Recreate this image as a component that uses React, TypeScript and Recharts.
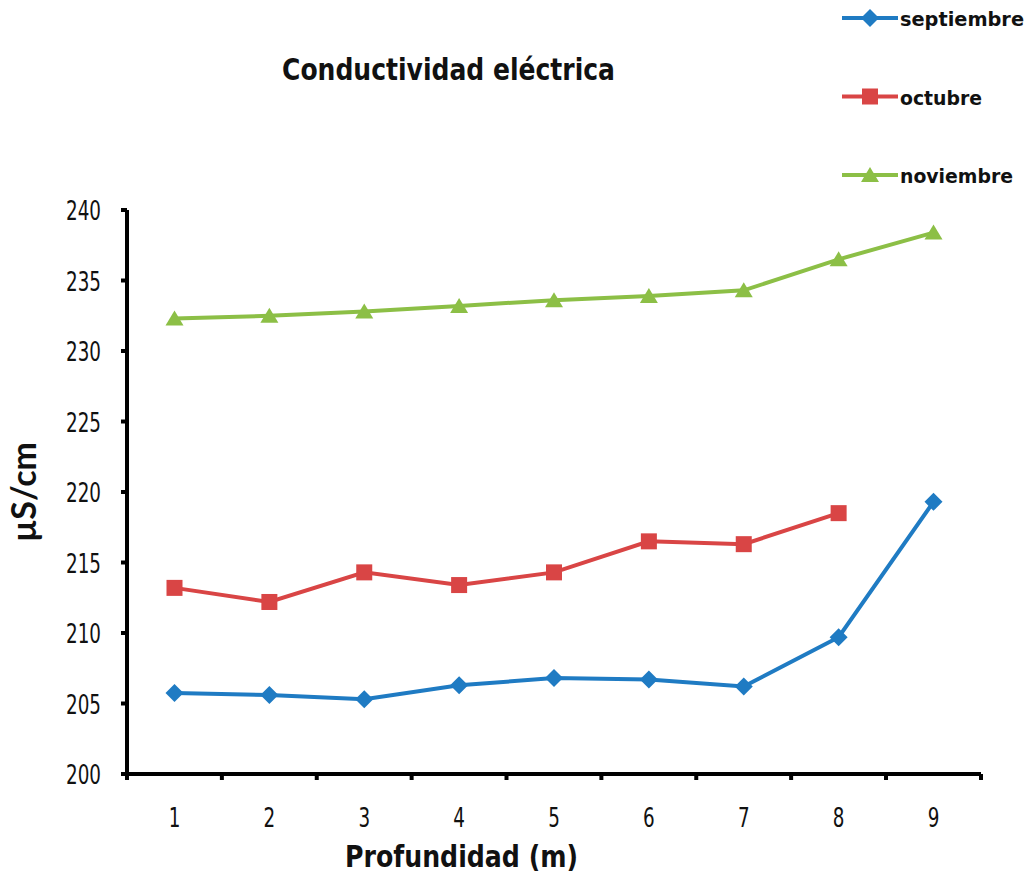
import React from 'react';
import { LineChart, Line, XAxis, YAxis, Legend, Label } from 'recharts';

const depths = ['1', '2', '3', '4', '5', '6', '7', '8', '9'];
const septiembre = [205.75, 205.6, 205.3, 206.3, 206.8, 206.7, 206.2, 209.7, 219.3];
const octubre = [213.2, 212.2, 214.3, 213.4, 214.3, 216.5, 216.3, 218.5, null];
const noviembre = [232.3, 232.5, 232.8, 233.2, 233.6, 233.9, 234.3, 236.5, 238.4];
const yTicks = [200, 205, 210, 215, 220, 225, 230, 235, 240];

const data = depths.map((d, i) => ({
  depth: d,
  septiembre: septiembre[i],
  octubre: octubre[i],
  noviembre: noviembre[i],
}));

const BLUE = '#1f7bc3';
const RED = '#d94545';
const GREEN = '#8cbf46';
const FONT = '"DejaVu Sans", sans-serif';
const HALF_BAND = 47.5; // half of one category slot, x ticks sit on the slot edges
const TICK = 6;
const X_MARGIN = 14;

type Shape = 'diamond' | 'square' | 'triangle';

function marker(shape: Shape, cx: number, cy: number, color: string, key?: string) {
  if (shape === 'diamond') {
    return <path key={key} d={`M${cx},${cy - 9}L${cx + 9},${cy}L${cx},${cy + 9}L${cx - 9},${cy}Z`} fill={color} />;
  }
  if (shape === 'square') {
    return <rect key={key} x={cx - 8} y={cy - 8} width={16} height={16} fill={color} />;
  }
  return <path key={key} d={`M${cx},${cy - 8}L${cx + 9},${cy + 7}L${cx - 9},${cy + 7}Z`} fill={color} />;
}

const dot = (shape: Shape, color: string) => (props: any) => {
  const { cx, cy, index, value } = props;
  if (value == null || cx == null || cy == null) return <g key={`e-${index}`} />;
  return marker(shape, cx, cy, color, `${shape}-${index}`);
};

// narrow digits: regular DejaVu squeezed horizontally
function NarrowText({ x, y, anchor, children }: { x: number; y: number; anchor: string; children: React.ReactNode }) {
  return (
    <text transform={`translate(${x},${y}) scale(0.68,1)`} textAnchor={anchor} fontFamily={FONT} fontSize={27} fill="#111">
      {children}
    </text>
  );
}

function YTick(props: any) {
  const { x, y, payload } = props;
  return <NarrowText x={x} y={y + 10} anchor="end">{payload.value}</NarrowText>;
}

function XTick(props: any) {
  const { x, y, payload, index, visibleTicksCount } = props;
  const axisY = y - TICK - X_MARGIN;
  const edges = [x - HALF_BAND];
  if (index === visibleTicksCount - 1) edges.push(x + HALF_BAND);
  return (
    <g>
      {edges.map((ex) => (
        <line key={ex} x1={ex} x2={ex} y1={axisY} y2={axisY + TICK} stroke="#000" strokeWidth={4} />
      ))}
      <NarrowText x={x} y={y + 33} anchor="middle">{payload.value}</NarrowText>
    </g>
  );
}

const legendItems: { name: string; color: string; shape: Shape; w: number }[] = [
  { name: 'septiembre', color: BLUE, shape: 'diamond', w: 124 },
  { name: 'octubre', color: RED, shape: 'square', w: 82 },
  { name: 'noviembre', color: GREEN, shape: 'triangle', w: 113 },
];

function LegendBox() {
  return (
    <svg width={190} height={200} style={{ display: 'block' }}>
      {legendItems.map((it, i) => {
        const y = 18 + i * 78.5;
        return (
          <g key={it.name}>
            <line x1={2} x2={58} y1={y} y2={y} stroke={it.color} strokeWidth={4} />
            {marker(it.shape, 30, y, it.color)}
            <text
              x={60}
              y={y + 8}
              fontFamily={FONT}
              fontWeight="bold"
              fontSize={19}
              fill="#111"
              textLength={it.w}
              lengthAdjust="spacingAndGlyphs"
            >
              {it.name}
            </text>
          </g>
        );
      })}
    </svg>
  );
}

export default function App() {
  return (
    <div style={{ position: 'absolute', left: 0, top: 0, background: '#fff' }}>
      <LineChart width={1036} height={881} data={data} margin={{ top: 210, right: 55, left: 0, bottom: 0 }}>
        <text
          x={282}
          y={80}
          fontFamily={FONT}
          fontWeight="bold"
          fontSize={30}
          fill="#111"
          textLength={333}
          lengthAdjust="spacingAndGlyphs"
        >
          Conductividad eléctrica
        </text>
        <text
          x={345}
          y={867}
          fontFamily={FONT}
          fontWeight="bold"
          fontSize={31}
          fill="#111"
          textLength={233}
          lengthAdjust="spacingAndGlyphs"
        >
          Profundidad (m)
        </text>
        <XAxis
          dataKey="depth"
          height={107}
          padding={{ left: HALF_BAND, right: HALF_BAND }}
          axisLine={{ stroke: '#000', strokeWidth: 4 }}
          tickLine={false}
          tickSize={TICK}
          tickMargin={X_MARGIN}
          tick={<XTick />}
          interval={0}
        />
        <YAxis
          width={127}
          domain={[200, 240]}
          ticks={yTicks}
          allowDataOverflow
          axisLine={{ stroke: '#000', strokeWidth: 4 }}
          tickLine={{ stroke: '#000', strokeWidth: 4 }}
          tickSize={TICK}
          tickMargin={20}
          tick={<YTick />}
        >
          <Label
            value="µS/cm"
            angle={-90}
            position="insideLeft"
            offset={24}
            style={{ textAnchor: 'middle', fontSize: 34, fontWeight: 'bold', fill: '#111', fontFamily: 'Lato, "Open Sans", sans-serif' }}
          />
        </YAxis>
        <Legend
          layout="horizontal"
          verticalAlign="middle"
          align="center"
          wrapperStyle={{ position: 'absolute', left: 840, top: 0, width: 190 }}
          content={() => <LegendBox />}
        />
        <Line
          dataKey="septiembre"
          stroke={BLUE}
          strokeWidth={4}
          dot={dot('diamond', BLUE)}
          activeDot={false}
          isAnimationActive={false}
        />
        <Line
          dataKey="octubre"
          stroke={RED}
          strokeWidth={4}
          dot={dot('square', RED)}
          activeDot={false}
          isAnimationActive={false}
        />
        <Line
          dataKey="noviembre"
          stroke={GREEN}
          strokeWidth={4}
          dot={dot('triangle', GREEN)}
          activeDot={false}
          isAnimationActive={false}
        />
      </LineChart>
    </div>
  );
}
